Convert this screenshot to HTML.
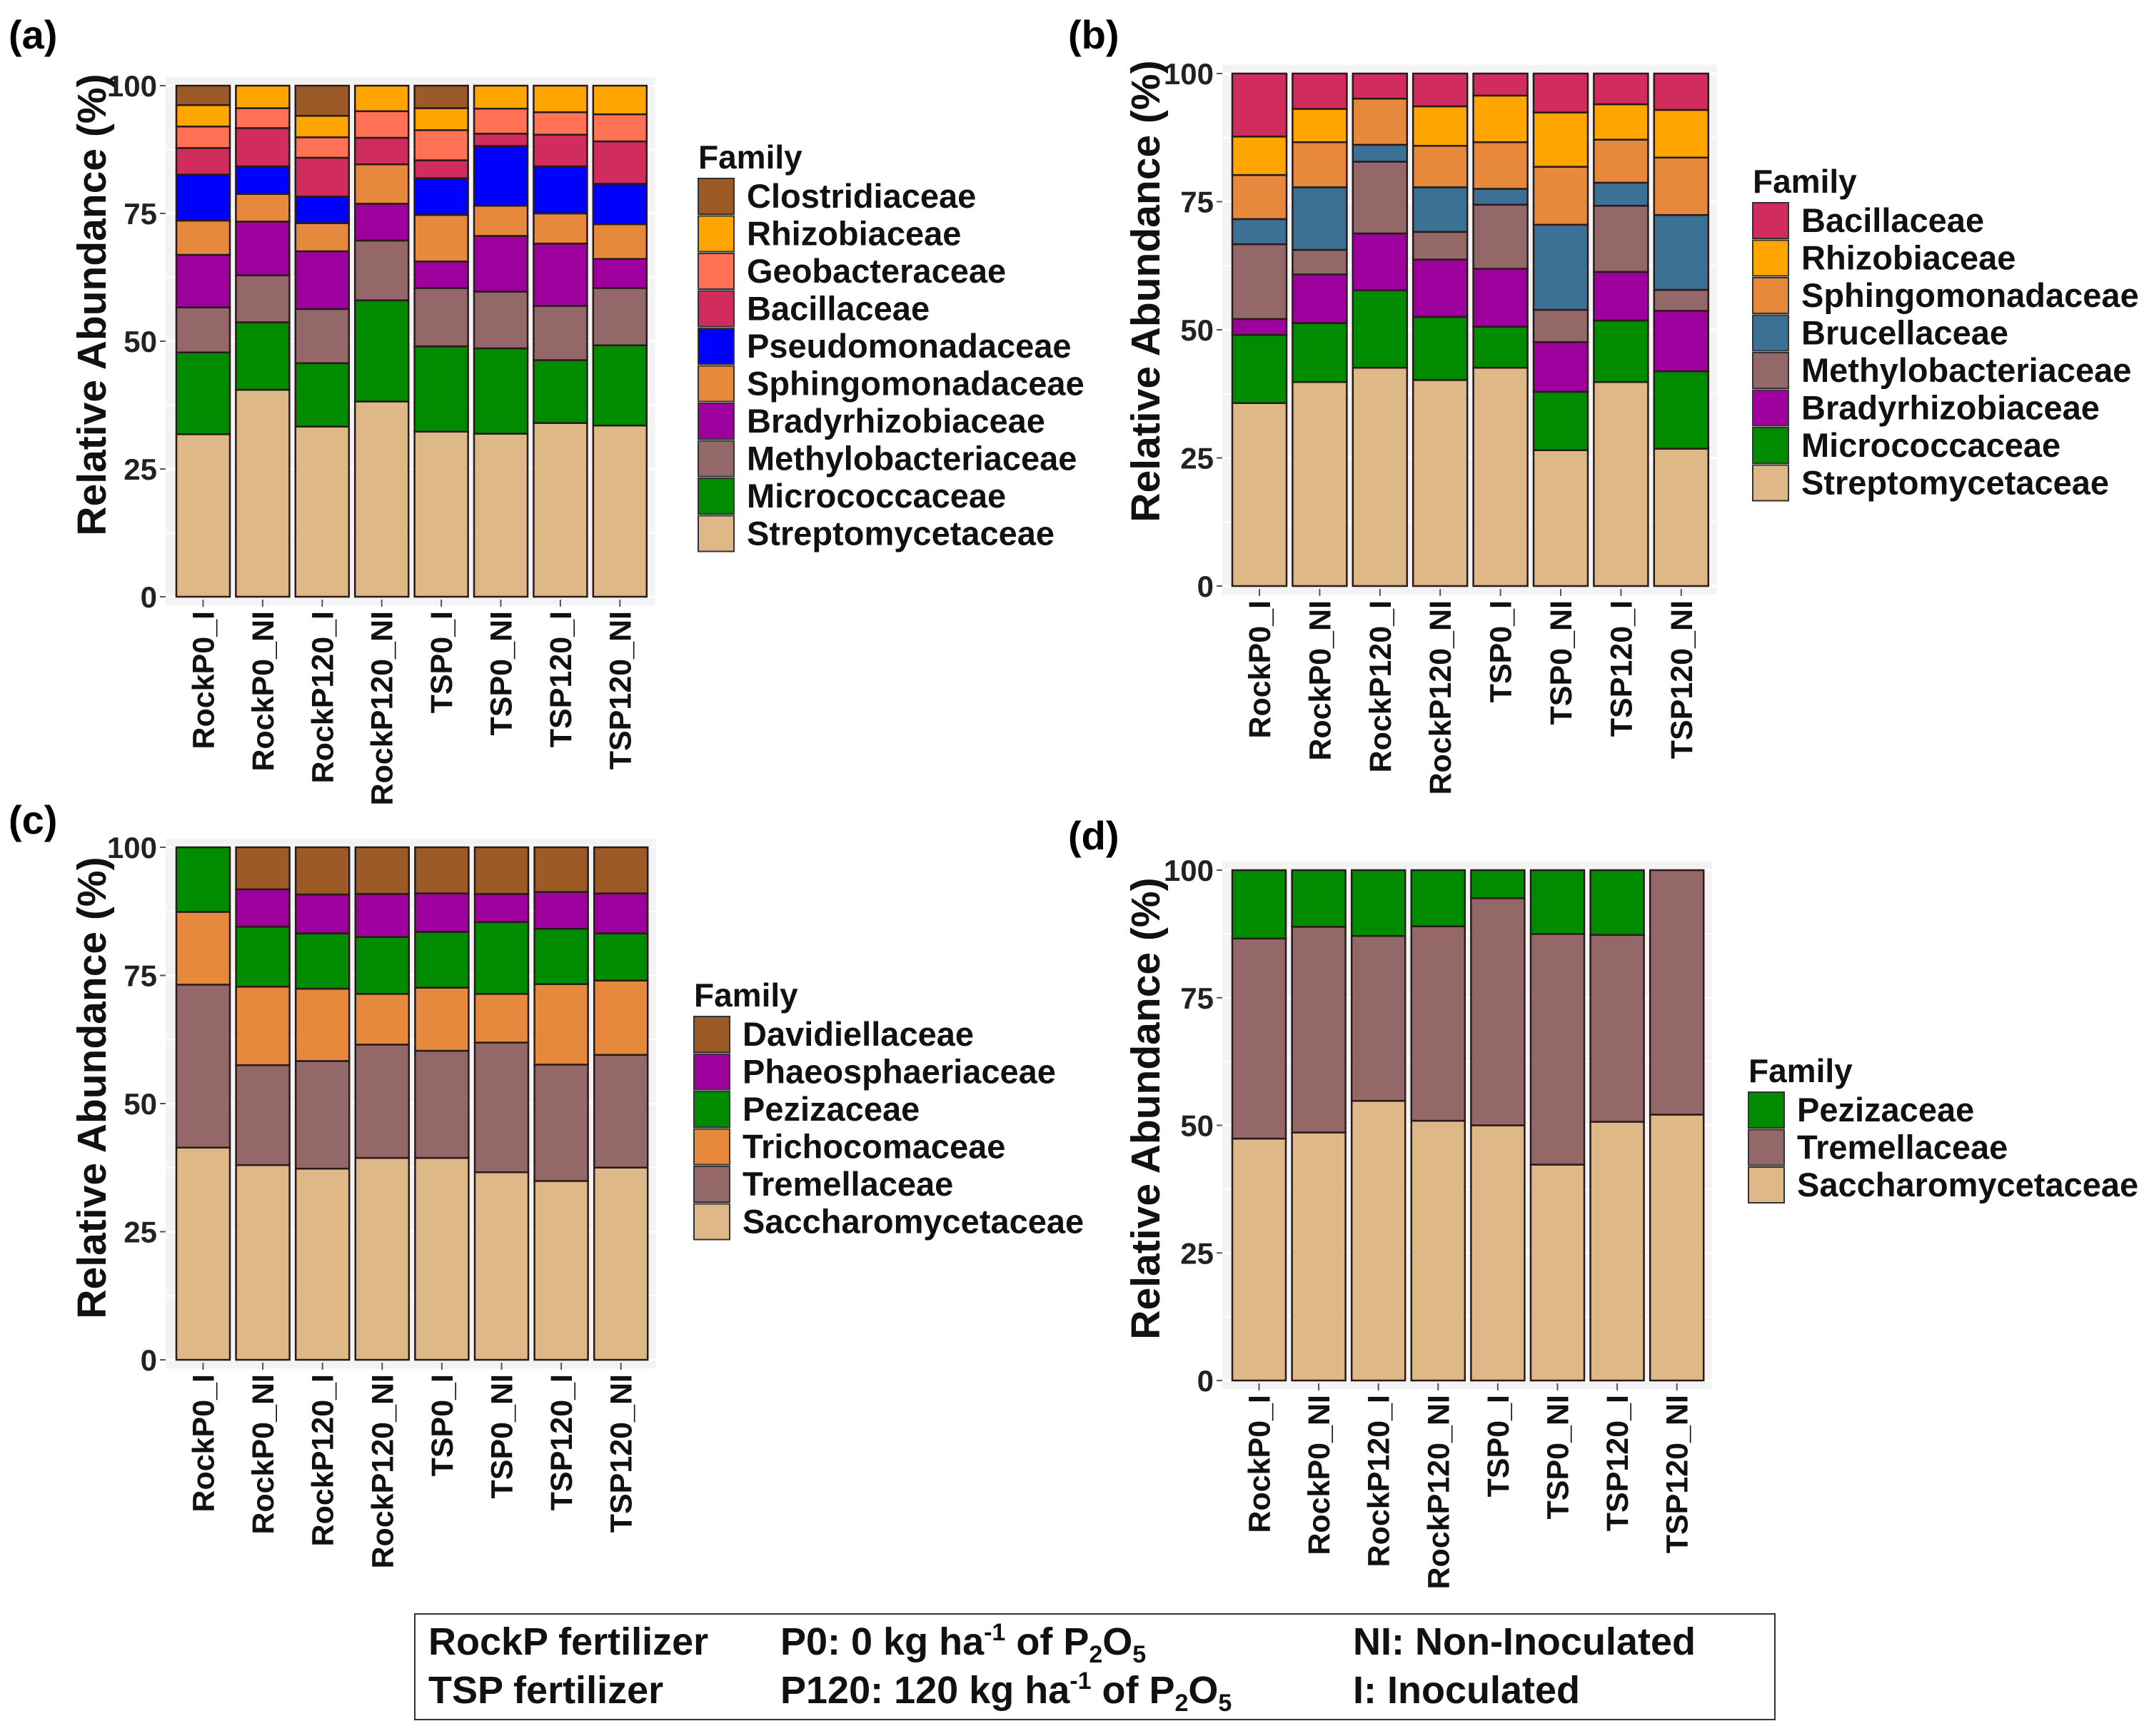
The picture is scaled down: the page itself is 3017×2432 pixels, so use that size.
<!DOCTYPE html>
<html><head><meta charset="utf-8"><style>
html,body{margin:0;padding:0;background:#fff;}
svg{display:block;font-family:"Liberation Sans",Arial,sans-serif;font-weight:bold;}
</style></head><body>
<svg id="fig" width="3017" height="2432" viewBox="0 0 3017 2432" xmlns="http://www.w3.org/2000/svg">
<g id="footer">
<rect x="581" y="2261" width="1905" height="148" fill="#fff" stroke="#333" stroke-width="2"/>
<text x="600" y="2318" font-size="54" fill="#111">RockP fertilizer</text>
<text x="600" y="2386" font-size="54" fill="#111">TSP fertilizer</text>
<text x="1093" y="2318" font-size="54" fill="#111">P0: 0 kg ha<tspan font-size="34" dy="-20">-1</tspan><tspan dy="20"> of P</tspan><tspan font-size="34" dy="11">2</tspan><tspan dy="-11">O</tspan><tspan font-size="34" dy="11">5</tspan></text>
<text x="1093" y="2386" font-size="54" fill="#111">P120: 120 kg ha<tspan font-size="34" dy="-20">-1</tspan><tspan dy="20"> of P</tspan><tspan font-size="34" dy="11">2</tspan><tspan dy="-11">O</tspan><tspan font-size="34" dy="11">5</tspan></text>
<text x="1895" y="2318" font-size="54" fill="#111">NI: Non-Inoculated</text>
<text x="1895" y="2386" font-size="54" fill="#111">I: Inoculated</text>
</g>
</svg>
<script>
const categories = ["RockP0_I","RockP0_NI","RockP120_I","RockP120_NI","TSP0_I","TSP0_NI","TSP120_I","TSP120_NI"];
const yTicks = [0,25,50,75,100];
const yTickLabels = ["0","25","50","75","100"];

// Panel (a) bacterial families, bottom to top
const aFamilies = ["Streptomycetaceae","Micrococcaceae","Methylobacteriaceae","Bradyrhizobiaceae","Sphingomonadaceae","Pseudomonadaceae","Bacillaceae","Geobacteraceae","Rhizobiaceae","Clostridiaceae"];
const aStrepto = [31.8,40.5,33.3,38.2,32.3,31.9,34.0,33.5];
const aMicro   = [16.0,13.2,12.4,19.8,16.7,16.7,12.3,15.7];
const aMethyl  = [8.8,9.2,10.6,11.7,11.4,11.1,10.6,11.2];
const aBrady   = [10.3,10.5,11.3,7.2,5.2,10.9,12.2,5.7];
const aSphingo = [6.7,5.4,5.5,7.7,9.1,5.9,5.9,6.8];
const aPseudo  = [9.0,5.4,5.2,0,7.2,11.7,9.2,7.9];
const aBacill  = [5.2,7.5,7.6,5.2,3.5,2.4,6.2,8.3];
const aGeo     = [4.2,3.9,4.0,5.2,5.9,4.9,4.4,5.3];
const aRhizo   = [4.2,4.4,4.2,5.0,4.3,4.5,5.2,5.6];
const aClost   = [3.8,0,5.9,0,4.4,0,0,0];

// Panel (b)
const bFamilies = ["Streptomycetaceae","Micrococcaceae","Bradyrhizobiaceae","Methylobacteriaceae","Brucellaceae","Sphingomonadaceae","Rhizobiaceae","Bacillaceae"];
const bStrepto = [35.7,39.8,42.6,40.2,42.6,26.5,39.8,26.8];
const bMicro   = [13.3,11.5,15.1,12.3,8.0,11.4,12.0,15.1];
const bBrady   = [3.1,9.5,11.1,11.2,11.3,9.7,9.5,11.8];
const bMethyl  = [14.6,4.8,14.0,5.4,12.5,6.3,12.9,4.1];
const bBrucell = [4.9,12.2,3.3,8.7,3.1,16.6,4.5,14.6];
const bSphingo = [8.6,8.8,9.0,8.1,9.1,11.3,8.4,11.2];
const bRhizo   = [7.5,6.5,0,7.7,9.1,10.6,6.9,9.3];
const bBacill  = [12.3,6.9,4.9,6.4,4.3,7.6,6.0,7.1];

// Panel (c) fungal
const cFamilies = ["Saccharomycetaceae","Tremellaceae","Trichocomaceae","Pezizaceae","Phaeosphaeriaceae","Davidiellaceae"];
const cSacch = [41.4,38.0,37.3,39.4,39.4,36.6,34.9,37.5];
const cTrem  = [31.8,19.5,21.0,22.1,20.9,25.3,22.7,22.0];
const cTrich = [14.2,15.3,14.1,9.9,12.3,9.5,15.7,14.5];
const cPez   = [12.6,11.7,10.8,11.1,10.9,14.0,10.8,9.2];
const cPhaeo = [0,7.3,7.6,8.4,7.5,5.5,7.2,7.8];
const cDavid = [0,8.2,9.2,9.1,9.0,9.1,8.7,9.0];

// Panel (d)
const dFamilies = ["Saccharomycetaceae","Tremellaceae","Pezizaceae"];
const dSacch = [47.4,48.6,54.8,50.9,50.0,42.3,50.7,52.1];
const dTrem  = [39.2,40.3,32.3,38.1,44.5,45.2,36.6,47.9];
const dPez   = [13.4,11.1,12.9,11.0,5.5,12.5,12.7,0];

const COL = {
 "Streptomycetaceae":"#DEB887","Saccharomycetaceae":"#DEB887",
 "Micrococcaceae":"#008B00","Pezizaceae":"#008B00",
 "Methylobacteriaceae":"#946868","Tremellaceae":"#946868",
 "Bradyrhizobiaceae":"#9E009E","Phaeosphaeriaceae":"#9E009E",
 "Sphingomonadaceae":"#E6893C","Trichocomaceae":"#E6893C",
 "Pseudomonadaceae":"#0000FF","Bacillaceae":"#D02C5E",
 "Geobacteraceae":"#FF7256","Rhizobiaceae":"#FFA500",
 "Clostridiaceae":"#9C5A26","Davidiellaceae":"#9C5A26",
 "Brucellaceae":"#3B7194"
};

const NS="http://www.w3.org/2000/svg";
const svg=document.getElementById('fig');
function el(tag,attrs,parent){const e=document.createElementNS(NS,tag);for(const k in attrs)e.setAttribute(k,attrs[k]);(parent||svg).appendChild(e);return e;}

function panel(p){
  const g=el('g',{});
  
  
  const yS=v=>p.y0-(p.y0-p.y100)*v/100;
  const xS=i=>p.x0+i*p.pitch;
  const right=xS(categories.length-1)+p.bw+12;
  const bg=el('rect',{x:p.axisX,y:p.y100-12,width:right-p.axisX,height:(p.y0-p.y100)+24,fill:'#F3F3F3'},g);
  
  
  [12.5,37.5,62.5,87.5].forEach(v=>el('line',{x1:p.axisX,x2:right,y1:yS(v),y2:yS(v),stroke:'#fff','stroke-width':2},g));
  yTicks.forEach((v,i)=>{
    el('line',{x1:p.axisX,x2:right,y1:yS(v),y2:yS(v),stroke:'#fff','stroke-width':3},g);
    el('line',{x1:p.axisX-8,x2:p.axisX,y1:yS(v),y2:yS(v),stroke:'#555','stroke-width':2},g);
    const t=el('text',{x:p.axisX-12,y:yS(v)+15,'text-anchor':'end','font-size':42,fill:'#222'},g);
    t.textContent=yTickLabels[i];
    
    
  });
  categories.forEach((c,i)=>{
    let cum=0;
    const cx=xS(i)+p.bw/2;
    p.series.forEach((arr,si)=>{
      const v=arr[i]; if(v<=0) return;
      const r=el('rect',{x:xS(i),y:yS(cum+v),width:p.bw,height:yS(cum)-yS(cum+v),fill:COL[p.fams[si]],stroke:'#2a1a1a','stroke-width':2.5},g);
      
      
      cum+=v;
    });
    el('line',{x1:cx,x2:cx,y1:p.y0+4,y2:p.y0+14,stroke:'#555','stroke-width':2},g);
    const t=el('text',{x:cx+15,y:p.y0+20,'text-anchor':'end','font-size':43,fill:'#111',transform:'rotate(-90 '+(cx+15)+' '+(p.y0+20)+')'},g);
    t.textContent=c;
    
    
  });
  const ty=p.titleY;
  const yt=el('text',{x:p.titleX,y:ty,'text-anchor':'middle','font-size':57,fill:'#111',transform:'rotate(-90 '+p.titleX+' '+ty+')'},g);
  yt.textContent='Relative Abundance (%)';
  
  
  const pl=el('text',{x:p.labX,y:p.labY,'font-size':56,fill:'#000'},g);
  pl.textContent='('+p.id+')';
  
  
  const lg=el('g',{},g);
  
  
  const lt=el('text',{x:p.legX,y:p.legY-14,'font-size':46,fill:'#111'},lg);
  lt.textContent='Family';
  
  
  const order=p.fams.slice().reverse();
  order.forEach((f,k)=>{
    const yy=p.legY+k*52.5;
    const kr=el('rect',{x:p.legX,y:yy,width:50,height:50,fill:COL[f],stroke:'#333','stroke-width':2},lg);
    
    
    const tt=el('text',{x:p.legX+68,y:yy+41,'font-size':47,fill:'#111'},lg);
    tt.textContent=f;
    
    
  });
}

panel({id:'a',y100:120,y0:836,x0:247,pitch:83.4,bw:75,axisX:232,titleX:148,titleY:427,labX:12,labY:68,legX:978,legY:250,
  fams:aFamilies,series:[aStrepto,aMicro,aMethyl,aBrady,aSphingo,aPseudo,aBacill,aGeo,aRhizo,aClost]});
panel({id:'b',y100:103,y0:821,x0:1726,pitch:84.4,bw:76,axisX:1712,titleX:1624,titleY:408,labX:1496,labY:68,legX:2455,legY:284,
  fams:bFamilies,series:[bStrepto,bMicro,bBrady,bMethyl,bBrucell,bSphingo,bRhizo,bBacill]});
panel({id:'c',y100:1187,y0:1905,x0:247,pitch:83.6,bw:75,axisX:232,titleX:148,titleY:1524,labX:12,labY:1168,legX:972,legY:1424,
  fams:cFamilies,series:[cSacch,cTrem,cTrich,cPez,cPhaeo,cDavid]});
panel({id:'d',y100:1219,y0:1934,x0:1726,pitch:83.6,bw:75,axisX:1712,titleX:1624,titleY:1553,labX:1496,labY:1190,legX:2449,legY:1530,
  fams:dFamilies,series:[dSacch,dTrem,dPez]});
</script>
</body></html>
